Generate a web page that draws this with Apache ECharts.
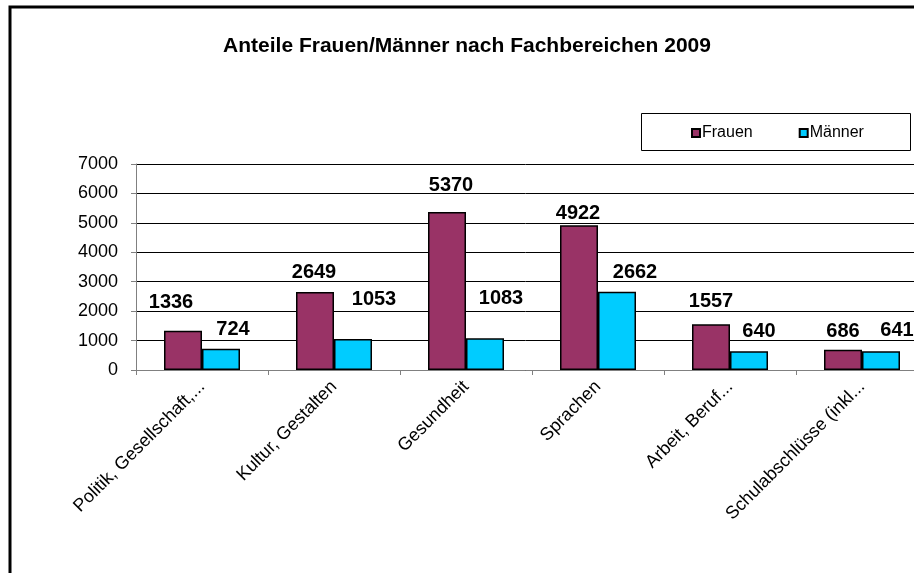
<!DOCTYPE html>
<html>
<head>
<meta charset="utf-8">
<script src="https://cdn.jsdelivr.net/npm/echarts@6/dist/echarts.min.js"></script>
<style>
  html, body { margin: 0; padding: 0; background: #fff; }
  #chart { width: 914px; height: 573px; }
</style>
</head>
<body>
<div id="chart"></div>
<script>
const categories = [
  'Politik, Gesellschaft,...',
  'Kultur, Gestalten',
  'Gesundheit',
  'Sprachen',
  'Arbeit, Beruf...',
  'Schulabschlüsse (inkl...'
];
const frauen = [1336, 2649, 5370, 4922, 1557, 686];
const maenner = [724, 1053, 1083, 2662, 640, 641];

// label shifts like in the Excel original (style only)
const frauenLabelShift = [[-12, -18], [-1, -10], [4, -16], [-1, -2], [0, -13], [0, -8]];
const maennerLabelShift = [[12, -9], [21, -30], [16, -30], [18, -9], [10, -10], [16, -11]];

const font = 'Arial, "Liberation Sans", sans-serif';

const withLabels = (values, shifts) =>
  values.map((v, i) => ({ value: v, label: { offset: shifts[i] } }));

const chart = echarts.init(document.getElementById('chart'));

const option = {
  backgroundColor: '#fff',
  animation: false,
  textStyle: { fontFamily: font },
  title: {
    text: 'Anteile Frauen/Männer nach Fachbereichen 2009',
    left: 467,
    textAlign: 'center',
    top: 36,
    padding: 0,
    textStyle: { fontFamily: font, fontSize: 21, fontWeight: 'bold', color: '#000' }
  },
  legend: {
    left: 691,
    top: 125,
    padding: 0,
    itemWidth: 8,
    itemHeight: 8,
    itemGap: 46,
    icon: 'rect',
    textStyle: { fontFamily: font, fontSize: 16, color: '#000', padding: [0, 0, 0, -3] },
    data: ['Frauen', 'Männer']
  },
  graphic: [
    {
      type: 'rect',
      shape: { x: 10, y: 7, width: 1000, height: 700 },
      style: { fill: 'none', stroke: '#000', lineWidth: 3 }
    },
    {
      type: 'rect',
      shape: { x: 641.5, y: 113.5, width: 269, height: 37 },
      style: { fill: 'none', stroke: '#000', lineWidth: 1 }
    }
  ],
  grid: {
    left: 136,
    top: 164,
    width: 792,
    height: 206,
    containLabel: false,
    outerBoundsMode: 'none'
  },
  xAxis: {
    type: 'category',
    data: categories,
    axisLine: { lineStyle: { color: '#808080', width: 1 } },
    axisTick: { show: true, length: 5, lineStyle: { color: '#808080' } },
    axisLabel: {
      rotate: 45,
      margin: 14,
      fontFamily: font,
      fontSize: 18,
      color: '#000',
      interval: 0
    }
  },
  yAxis: {
    type: 'value',
    min: 0,
    max: 7000,
    interval: 1000,
    axisLine: { show: true, lineStyle: { color: '#808080', width: 1 } },
    axisTick: { show: true, length: 5, lineStyle: { color: '#808080' } },
    axisLabel: { margin: 18, fontFamily: font, fontSize: 18, color: '#000', formatter: v => String(v) },
    splitLine: { show: true, lineStyle: { color: '#000', width: 1 } }
  },
  series: [
    {
      name: 'Frauen',
      type: 'bar',
      barWidth: 38,
      barGap: '0%',
      data: withLabels(frauen, frauenLabelShift),
      itemStyle: { color: '#993366', borderColor: '#000', borderWidth: 1.5 },
      label: {
        show: true,
        position: 'top',
        distance: 0,
        fontFamily: font,
        fontSize: 20,
        fontWeight: 'bold',
        color: '#000'
      }
    },
    {
      name: 'Männer',
      type: 'bar',
      barWidth: 38,
      barGap: '0%',
      data: withLabels(maenner, maennerLabelShift),
      itemStyle: { color: '#00CCFF', borderColor: '#000', borderWidth: 1.5 },
      label: {
        show: true,
        position: 'top',
        distance: 0,
        fontFamily: font,
        fontSize: 20,
        fontWeight: 'bold',
        color: '#000'
      }
    }
  ]
};

chart.setOption(option);
</script>
</body>
</html>
